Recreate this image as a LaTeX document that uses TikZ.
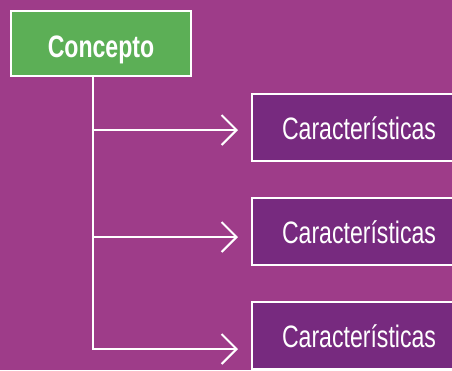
\documentclass[tikz,border=0pt]{standalone}
\usepackage{fontspec}
\setmainfont{Liberation Sans}[FakeStretch=0.745]
\usetikzlibrary{positioning, arrows.meta}
\definecolor{mapBack}{HTML}{9E3C89}
\definecolor{mapGreen}{HTML}{5CAF56}
\definecolor{mapPurple}{HTML}{772A7F}
\tikzset{
  conceptbox/.style={draw=white, line width=2pt, fill=mapGreen, text=white, font=\fontsize{31}{36}\selectfont\bfseries, minimum width=180pt, minimum height=65pt, inner sep=0pt, text height=27pt, text depth=0pt},
  featurebox/.style={draw=white, line width=2pt, fill=mapPurple, text=white, font=\fontsize{31}{36}\selectfont, minimum width=214pt, minimum height=67pt, inner sep=0pt, text height=24pt, text depth=0pt},
  branch/.style={draw=white, line width=2pt, -{Straight Barb[length=15pt, width=30pt, line width=2pt]}}
}
\begin{document}
\begin{tikzpicture}[x=1pt, y=-1pt]
\fill[mapBack] (0,0) rectangle (452,370);
\clip (0,0) rectangle (452,370);

\node (concepto) [conceptbox] at (101,43.5) {Concepto};

\node (car1) [featurebox] at (359,127.5) {Características};
\node (car2) [featurebox, below=35pt of car1] {Características};
\node (car3) [featurebox, below=35pt of car2] {Características};

% tree trunk and branches
\coordinate (trunk) at (concepto.south -| 93,0);
\coordinate (tip1) at (238,130);
\coordinate (tip2) at (238,237);
\coordinate (tip3) at (238,349);

\draw[branch] (trunk) |- (tip3);
\draw[branch] (trunk |- tip1) -- (tip1);
\draw[branch] (trunk |- tip2) -- (tip2);
\end{tikzpicture}
\end{document}
